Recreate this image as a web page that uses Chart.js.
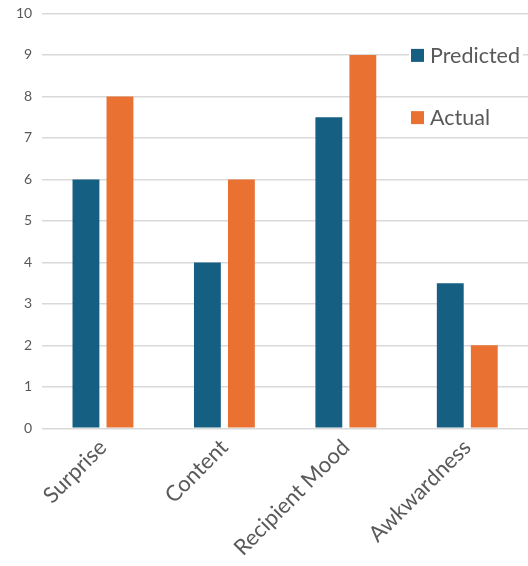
<!DOCTYPE html>
<html>
<head>
<meta charset="utf-8">
<script src="https://cdn.jsdelivr.net/npm/chart.js@4"></script>
<style>
html,body{margin:0;padding:0;background:#fff;overflow:hidden;}
#wrap{width:528px;height:566px;overflow:hidden;}
#c{display:block;margin-top:-5px;}
</style>
</head>
<body>
<div id="wrap"><canvas id="c" width="528" height="572"></canvas></div>
<script>
const categories = ["Surprise", "Content", "Recipient Mood", "Awkwardness"];
const predicted = [6, 4, 7.5, 3.5];
const actual = [8, 6, 9, 2];
const seriesNames = ["Predicted", "Actual"];
const yTicks = [0, 1, 2, 3, 4, 5, 6, 7, 8, 9, 10];

const BLUE = "#155F82";
const ORANGE = "#E97132";
const TXT = "#595959";
const FONT = "Lato, 'Open Sans', sans-serif";

const legendPlugin = {
  id: "insideLegend",
  afterDraw(chart) {
    const ctx = chart.ctx;
    const items = chart.data.datasets;
    const yScale = chart.scales.y;
    const x = 411;
    const ys = [yScale.getPixelForValue(9), yScale.getPixelForValue(7.5)];
    ctx.save();
    items.forEach((ds, i) => {
      ctx.font = "21.5px " + FONT;
      const w = ctx.measureText(ds.label).width;
      ctx.fillStyle = "#ffffff";
      ctx.fillRect(x - 2, ys[i] - 12, w + 24, 24);
      ctx.fillStyle = ds.backgroundColor;
      ctx.fillRect(x, ys[i] - 6, 13, 13);
      ctx.fillStyle = TXT;
      ctx.textBaseline = "middle";
      ctx.textAlign = "left";
      ctx.fillText(ds.label, x + 19, ys[i] + 1);
    });
    ctx.restore();
  }
};

new Chart(document.getElementById("c"), {
  type: "bar",
  data: {
    labels: categories,
    datasets: [
      { label: seriesNames[0], data: predicted, backgroundColor: BLUE },
      { label: seriesNames[1], data: actual, backgroundColor: ORANGE }
    ]
  },
  options: {
    responsive: false,
    devicePixelRatio: 1,
    animation: false,
    categoryPercentage: 0.56,
    barPercentage: 0.79,
    layout: { padding: { top: 0, right: 0, left: 6, bottom: 0 } },
    plugins: { legend: { display: false }, tooltip: { enabled: false } },
    scales: {
      x: {
        grid: { display: false, drawTicks: false },
        border: { display: false },
        ticks: {
          color: TXT, font: { family: FONT, size: 22 },
          minRotation: 45, maxRotation: 45, padding: 6
        }
      },
      y: {
        min: 0, max: 10,
        afterBuildTicks(axis) { axis.ticks = yTicks.map(v => ({ value: v })); },
        grid: { color: "#d9d9d9", lineWidth: 1.5, drawTicks: false },
        border: { display: false },
        ticks: { color: TXT, font: { family: FONT, size: 14 }, padding: 10 }
      }
    }
  },
  plugins: [legendPlugin]
});
</script>
</body>
</html>
